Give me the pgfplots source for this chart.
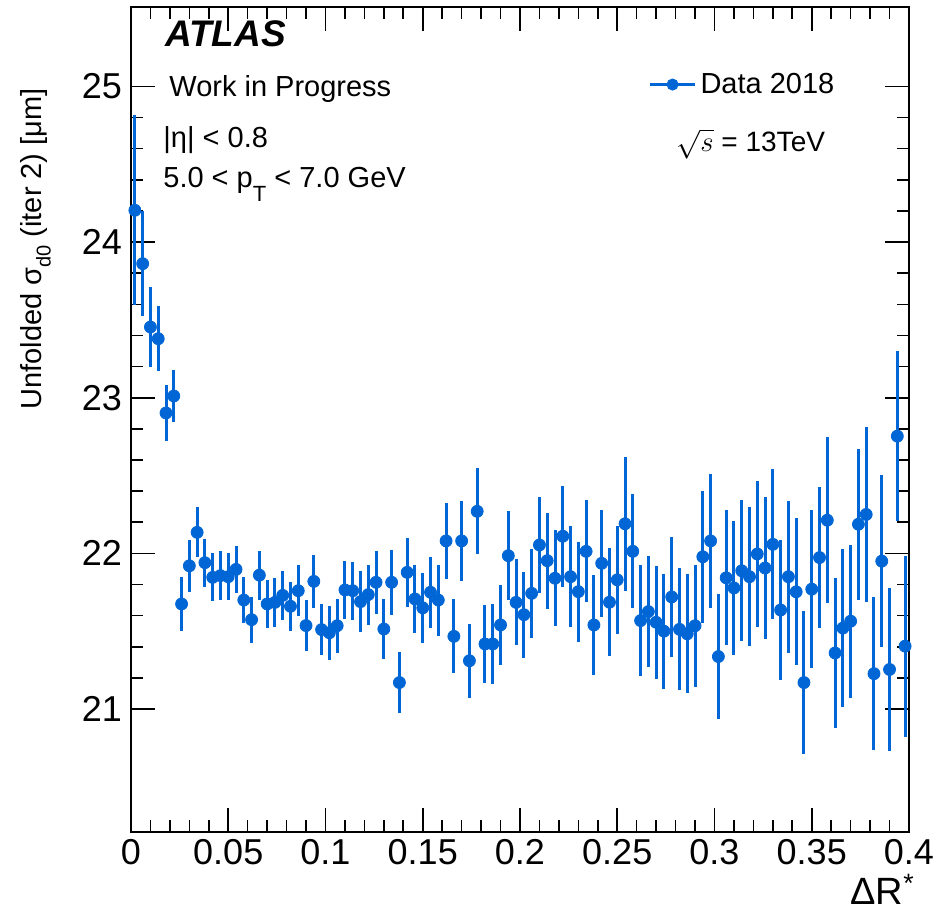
\documentclass[border=0pt]{standalone}
\usepackage{pgfplots}
\pgfplotsset{compat=1.18}
\usepackage{pgfplotstable}
\usepackage{fontspec}
\setmainfont{Liberation Sans}
\definecolor{rootblue}{RGB}{0,102,214}

\pgfplotstableread{
x y e
0.002 24.204 0.610
0.006 23.861 0.337
0.010 23.454 0.255
0.014 23.379 0.210
0.018 22.902 0.180
0.022 23.011 0.170
0.026 21.675 0.171
0.030 21.920 0.166
0.034 22.135 0.160
0.038 21.940 0.155
0.042 21.846 0.155
0.046 21.857 0.157
0.050 21.850 0.150
0.054 21.897 0.153
0.058 21.700 0.149
0.062 21.574 0.148
0.066 21.860 0.158
0.070 21.675 0.154
0.074 21.685 0.157
0.078 21.730 0.156
0.082 21.660 0.157
0.086 21.760 0.164
0.090 21.536 0.164
0.094 21.820 0.169
0.098 21.510 0.166
0.102 21.490 0.173
0.106 21.535 0.173
0.110 21.765 0.187
0.114 21.760 0.185
0.118 21.690 0.195
0.122 21.735 0.193
0.126 21.814 0.203
0.130 21.514 0.195
0.134 21.814 0.208
0.138 21.170 0.195
0.142 21.878 0.222
0.146 21.707 0.220
0.150 21.650 0.225
0.154 21.750 0.229
0.158 21.700 0.228
0.162 22.080 0.246
0.166 21.467 0.237
0.170 22.080 0.257
0.174 21.310 0.239
0.178 22.270 0.276
0.182 21.418 0.250
0.186 21.418 0.255
0.190 21.540 0.257
0.194 21.985 0.284
0.198 21.685 0.276
0.202 21.606 0.275
0.206 21.743 0.287
0.210 22.054 0.310
0.214 21.953 0.308
0.218 21.840 0.308
0.222 22.110 0.324
0.226 21.850 0.325
0.230 21.754 0.321
0.234 22.013 0.327
0.238 21.540 0.322
0.242 21.936 0.343
0.246 21.686 0.346
0.250 21.830 0.345
0.254 22.190 0.430
0.258 22.013 0.367
0.262 21.568 0.359
0.266 21.626 0.358
0.270 21.557 0.365
0.274 21.500 0.369
0.278 21.720 0.388
0.282 21.512 0.391
0.286 21.483 0.382
0.290 21.535 0.391
0.294 21.978 0.425
0.298 22.080 0.428
0.302 21.337 0.399
0.306 21.843 0.433
0.310 21.778 0.433
0.314 21.888 0.453
0.318 21.850 0.446
0.322 21.996 0.470
0.326 21.906 0.458
0.330 22.058 0.481
0.334 21.636 0.449
0.338 21.850 0.487
0.342 21.753 0.472
0.346 21.170 0.458
0.350 21.770 0.506
0.354 21.973 0.453
0.358 22.213 0.533
0.362 21.360 0.483
0.366 21.520 0.508
0.370 21.564 0.490
0.374 22.187 0.485
0.378 22.250 0.563
0.382 21.227 0.493
0.386 21.950 0.551
0.390 21.254 0.525
0.394 22.753 0.548
0.398 21.404 0.581
}\datatable

\begin{document}
\begin{tikzpicture}
\useasboundingbox (-65.5pt,-41.5pt) rectangle (403.5pt,416pt);
\begin{axis}[
  at={(0pt,0pt)}, anchor=south west,
  scale only axis, width=389pt, height=412.5pt,
  xmin=0, xmax=0.4, ymin=20.21, ymax=25.51,
  xtick={0,0.05,0.1,0.15,0.2,0.25,0.3,0.35,0.4},
  xticklabels={0,0.05,0.1,0.15,0.2,0.25,0.3,0.35,0.4},
  ytick={21,22,23,24,25},
  yticklabels={21,22,23,24,25},
  minor x tick num=4, minor y tick num=4,
  tick align=inside, xtick pos=both, ytick pos=both,
  xticklabel pos=lower, yticklabel pos=left,
  major tick length=12pt, minor tick length=6pt,
  tick style={black, line width=0.8pt},
  axis line style={line width=0.8pt},
  tick label style={font=\fontsize{18}{21}\selectfont},
  xticklabel style={yshift=-0.3pt},
  yticklabel style={xshift=-1.0pt},
  legend style={at={(0.657,0.906)}, anchor=west, draw=none, fill=none,
    font=\fontsize{14.5}{17}\selectfont},
  legend cell align=left,
  legend image code/.code={
    \draw[rootblue, line width=1.5pt] (0pt,0pt) -- (22.5pt,0pt);
    \fill[rootblue] (11.25pt,0pt) circle (2.8pt);
  },
]
\addplot[only marks, mark=*, mark size=3pt, color=rootblue,
  error bars/.cd, y dir=both, y explicit, error mark=none,
  error bar style={line width=1.5pt, rootblue}]
  table[x=x, y=y, y error=e]{\datatable};
\addlegendentry{Data 2018}
\end{axis}
\node[anchor=base west, inner sep=0pt, font=\fontsize{18.5}{22}\selectfont\bfseries\itshape] at (17pt,392.5pt) {ATLAS};
\node[anchor=base west, inner sep=0pt, font=\fontsize{14.5}{17}\selectfont] at (19pt,367.5pt) {Work in Progress};
\node[anchor=base west, inner sep=0pt, font=\fontsize{14.5}{17}\selectfont] at (16pt,342pt) {|η| < 0.8};
\node[anchor=base west, inner sep=0pt, font=\fontsize{14.5}{17}\selectfont] at (16pt,322pt) {5.0 < p\raisebox{-7pt}{\fontsize{11}{13}\selectfont T} < 7.0 GeV};
\node[anchor=base west, inner sep=0pt, font=\fontsize{14}{17}\selectfont] at (272.5pt,340pt) {$\sqrt{s}$ = 13TeV};
\node[anchor=base east, inner sep=0pt, font=\fontsize{19}{22}\selectfont] at (392pt,-36.5pt) {ΔR\textsuperscript{*}};
\node[rotate=90, anchor=base, inner sep=0pt, font=\fontsize{14.5}{17}\selectfont] at (-44.5pt,291.5pt) {Unfolded σ\raisebox{-0.3em}{\fontsize{10}{12}\selectfont d0} (iter 2) [μm]};
\end{tikzpicture}
\end{document}
